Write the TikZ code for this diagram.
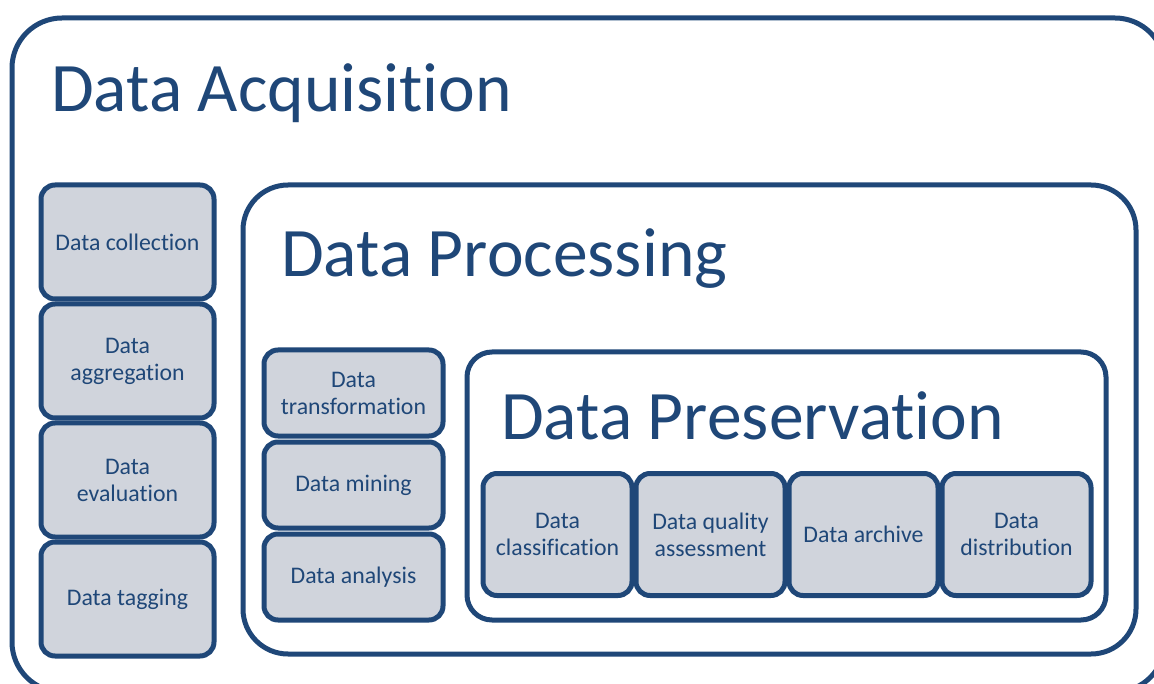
\documentclass[tikz,border=0pt]{standalone}
\usepackage{fontspec}
\setmainfont{Carlito}[Ligatures=NoCommon]
\usetikzlibrary{positioning}

\definecolor{deepblue}{HTML}{1F4778}
\definecolor{boxgrey}{HTML}{D0D4DC}

\begin{document}
\begin{tikzpicture}[x=1pt, y=-1pt,
    stage/.style={draw=deepblue, line width=5pt, fill=white, inner sep=0pt},
    task/.style={draw=deepblue, fill=boxgrey, line width=5pt, rounded corners=14pt,
      align=center, text=deepblue, inner sep=0pt,
      font=\fontsize{23.8}{27}\selectfont},
    heading/.style={text=deepblue, anchor=base west, inner sep=0pt,
      font=\fontsize{69.5}{80}\selectfont}]
      \useasboundingbox (0,0) rectangle (1154,684);
      \clip (0,0) rectangle (1154,684);

      % Stage frames
      \node[stage, rounded corners=50pt, minimum width=1153pt, minimum height=674pt] (acq) at (588.5,355) {};
      \node[stage, rounded corners=45pt, minimum width=893pt, minimum height=469pt] (proc) at (689.5,419.5) {};
      \node[stage, rounded corners=25pt, minimum width=639pt, minimum height=268pt] (pres) at (786.5,486) {};

      % Stage titles
      \node[heading] (acq_title) at (51,112) {Data Acquisition};
      \node[heading] (proc_title) at (281,277) {Data Processing};
      \node[heading] (pres_title) at (501,439) {Data Preservation};

      % Acquisition tasks
      \node[task, minimum width=173pt, minimum height=114pt] (collect) at (127.5,242) {Data collection};
      \node[task, minimum width=173pt, minimum height=114pt, below of=collect, node distance=119pt] (aggregate) {Data\\aggregation};
      \node[task, minimum width=173pt, minimum height=114pt, below of=aggregate, node distance=119pt] (evaluate) {Data\\evaluation};
      \node[task, minimum width=173pt, minimum height=114pt, below of=evaluate, node distance=119pt] (tag) {Data tagging};

      % Processing tasks
      \node[task, minimum width=179pt, minimum height=86pt] (transform) at (353.5,393) {Data\\transformation};
      \node[task, minimum width=179pt, minimum height=86pt, below of=transform, node distance=92pt] (mine) {Data mining};
      \node[task, minimum width=179pt, minimum height=86pt, below of=mine, node distance=92pt] (analyse) {Data analysis};

      % Preservation tasks
      \node[task, minimum width=149pt, minimum height=122pt] (classify) at (557.5,534.5) {Data\\classification};
      \node[task, minimum width=149pt, minimum height=122pt, right of=classify, node distance=153pt] (quality) {Data quality\\assessment};
      \node[task, minimum width=149pt, minimum height=122pt, right of=quality, node distance=153pt] (archive) {Data archive};
      \node[task, minimum width=149pt, minimum height=122pt, right of=archive, node distance=153pt] (distribute) {Data\\distribution};

    \end{tikzpicture}
\end{document}
